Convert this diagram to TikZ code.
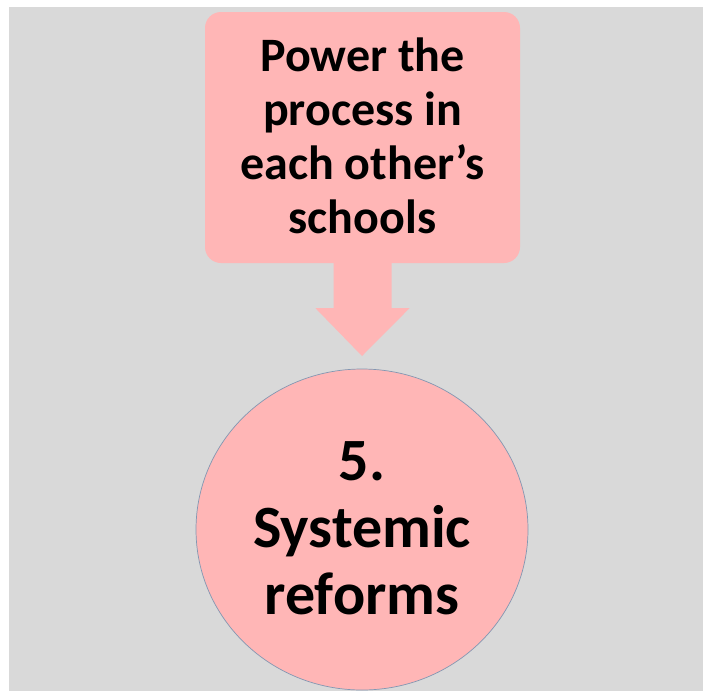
\documentclass[tikz,border=0pt]{standalone}
\usepackage{fontspec}
\setmainfont{Carlito}
\usetikzlibrary{calc}
\definecolor{bg}{HTML}{D9D9D9}
\definecolor{pinkfill}{HTML}{FFB6B6}
\definecolor{rimblue}{HTML}{8297B2}
\tikzset{
  calloutbox/.style={fill=pinkfill, draw=none, rounded corners=16pt, minimum width=315pt, minimum height=251pt, inner sep=0pt},
  boxtext/.style={align=center, font=\fontsize{48}{54}\selectfont\bfseries, inner sep=0pt},
  stagecircle/.style={ellipse, fill=pinkfill, draw=rimblue, line width=0.7pt, minimum width=332pt, minimum height=321pt, inner sep=0pt},
  circletext/.style={align=center, font=\fontsize{60}{67}\selectfont\bfseries, inner sep=0pt},
  blockarrow/.style={fill=pinkfill, draw=none}
}
\usetikzlibrary{shapes.geometric}
\begin{document}
\begin{tikzpicture}[x=1pt,y=-1pt]
\useasboundingbox (0,0) rectangle (703,691);
\fill[bg] (9,7) rectangle (703,691);
\node[calloutbox] (box) at (362.5,137.5) {};
\node[boxtext] (boxlabel) at ($(box.center)+(0,-2)$) {Power the\\process in\\each other’s\\schools};
\node[stagecircle] (circ) at (362,529.5) {};
\node[circletext] (circlabel) at ($(circ.center)+(0,-1)$) {5.\\Systemic\\reforms};
\coordinate (tip) at (362,356);
\fill[blockarrow] ($(box.south)+(-29,-1)$) -- ($(box.south)+(29,-1)$) -- ($(box.south)+(29,45)$) -- ($(box.south)+(47,45)$) -- (tip) -- ($(box.south)+(-47,45)$) -- ($(box.south)+(-29,45)$) -- cycle;
\end{tikzpicture}
\end{document}
